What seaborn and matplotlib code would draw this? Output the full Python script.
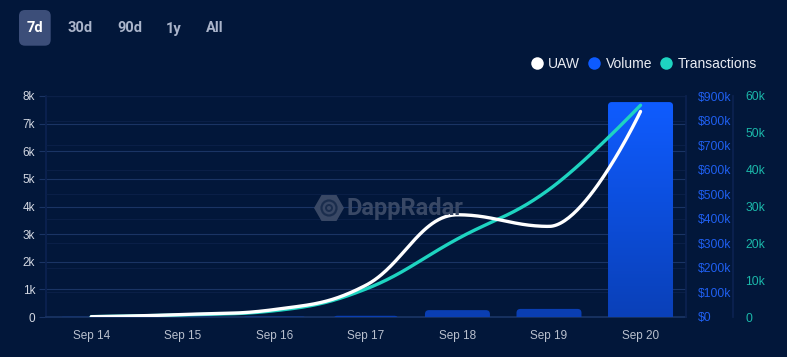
import numpy as np
import pandas as pd
import matplotlib
matplotlib.use("Agg")
import matplotlib.pyplot as plt
import seaborn as sns
from matplotlib.patches import FancyBboxPatch, RegularPolygon, Circle
from matplotlib.lines import Line2D
from matplotlib.colors import LinearSegmentedColormap

# ---------------- data ----------------
dates = ["Sep 14", "Sep 15", "Sep 16", "Sep 17", "Sep 18", "Sep 19", "Sep 20"]
uaw = [10, 90, 270, 1150, 3700, 3280, 7440]
volume = [600, 800, 1500, 5000, 28000, 33000, 875000]
transactions = [100, 600, 1700, 7600, 21200, 34600, 57500]

uaw_ticks = [0, 1000, 2000, 3000, 4000, 5000, 6000, 7000, 8000]
uaw_labels = ["0", "1k", "2k", "3k", "4k", "5k", "6k", "7k", "8k"]
vol_ticks = [0, 100000, 200000, 300000, 400000, 500000, 600000, 700000, 800000, 900000]
vol_labels = ["$0", "$100k", "$200k", "$300k", "$400k", "$500k", "$600k", "$700k", "$800k", "$900k"]
tx_ticks = [0, 10000, 20000, 30000, 40000, 50000, 60000]
tx_labels = ["0", "10k", "20k", "30k", "40k", "50k", "60k"]
ranges = ["7d", "30d", "90d", "1y", "All"]
legend_names = ["UAW", "Volume", "Transactions"]

# ---------------- style ----------------
BG = "#02173a"
GRID = "#1a3464"
GRID_FAINT = "#0b2048"
WHITE = "#ffffff"
TEAL = "#1ed4c1"
BLUE = "#0d5bff"
BAR_DARK = "#0a3eb2"

sns.set_theme(style="dark")
plt.rcParams["font.family"] = ["Liberation Sans", "DejaVu Sans"]

W, H = 787, 357
fig = plt.figure(figsize=(W / 100, H / 100), dpi=100, facecolor=BG)
rect = [45.5 / W, 40 / H, 640.8 / W, 221 / H]
ax = fig.add_axes(rect)
ax.set_facecolor(BG)
ax_vol = ax.twinx()
ax_tx = ax.twinx()
ax_top = ax.twinx()


def hc_spline(values, n=60):
    y = np.asarray(values, dtype=float)
    x = np.arange(len(y), dtype=float)
    m = len(y)
    lcx, lcy, rcx, rcy = x.copy(), y.copy(), x.copy(), y.copy()
    s, d = 1.5, 2.5
    for i in range(1, m - 1):
        lx = (s * x[i] + x[i - 1]) / d
        ly = (s * y[i] + y[i - 1]) / d
        rx = (s * x[i] + x[i + 1]) / d
        ry = (s * y[i] + y[i + 1]) / d
        corr = ((ry - ly) * (rx - x[i])) / (rx - lx) + y[i] - ry
        ly += corr
        ry += corr
        if ly > y[i - 1] and ly > y[i]:
            ly = max(y[i - 1], y[i]); ry = 2 * y[i] - ly
        elif ly < y[i - 1] and ly < y[i]:
            ly = min(y[i - 1], y[i]); ry = 2 * y[i] - ly
        if ry > y[i + 1] and ry > y[i]:
            ry = max(y[i + 1], y[i]); ly = 2 * y[i] - ry
        elif ry < y[i + 1] and ry < y[i]:
            ry = min(y[i + 1], y[i]); ly = 2 * y[i] - ry
        lcx[i], lcy[i], rcx[i], rcy[i] = lx, ly, rx, ry
    xs, ys = [], []
    t = np.linspace(0, 1, n)
    for i in range(m - 1):
        p0 = (x[i], y[i]); p1 = (rcx[i], rcy[i])
        p2 = (lcx[i + 1], lcy[i + 1]); p3 = (x[i + 1], y[i + 1])
        bx = (1 - t) ** 3 * p0[0] + 3 * (1 - t) ** 2 * t * p1[0] + 3 * (1 - t) * t ** 2 * p2[0] + t ** 3 * p3[0]
        by = (1 - t) ** 3 * p0[1] + 3 * (1 - t) ** 2 * t * p1[1] + 3 * (1 - t) * t ** 2 * p2[1] + t ** 3 * p3[1]
        if i > 0:
            bx, by = bx[1:], by[1:]
        xs.extend(bx); ys.extend(by)
    return np.array(xs), np.array(ys)


# ---------------- bars (volume) ----------------
df = pd.DataFrame({"date": dates, "volume": volume})
sns.barplot(data=df, x="date", y="volume", ax=ax_vol, color=BAR_DARK,
            width=0.71, saturation=1)
vmax = max(volume)
px_y = 900000 / 221.0
rr = 4 * px_y
cmap = LinearSegmentedColormap.from_list("vol", ["#0a40b8", "#0f5cff"])
for p, v in zip(list(ax_vol.patches), volume):
    x0, w, h = p.get_x(), p.get_width(), p.get_height()
    p.set_visible(False)
    box = FancyBboxPatch((x0, -rr), w, h + rr,
                         boxstyle="round,pad=0,rounding_size=%f" % (4 / 91.5),
                         mutation_aspect=rr / (4 / 91.5),
                         facecolor=BAR_DARK, edgecolor="none", zorder=2)
    ax_vol.add_patch(box)
    if v == vmax:
        grad = np.linspace(0, 1, 256).reshape(-1, 1)
        im = ax_vol.imshow(grad, cmap=cmap, origin="lower", aspect="auto",
                           extent=[x0, x0 + w, 0, h], zorder=3)
        im.set_clip_path(box)

# ---------------- lines ----------------
tx_x, tx_y = hc_spline(transactions)
sns.lineplot(x=tx_x, y=tx_y, ax=ax_tx, color=TEAL, linewidth=2.4,
             sort=False, estimator=None)
u_x, u_y = hc_spline(uaw)
sns.lineplot(x=u_x, y=u_y, ax=ax_top, color=WHITE, linewidth=2.4,
             sort=False, estimator=None)

# ---------------- axes ----------------
for a in (ax, ax_vol, ax_tx, ax_top):
    a.set_xlim(-0.5, 6.5)
    for sp in a.spines.values():
        sp.set_visible(False)
    a.set_xlabel("")
    a.set_ylabel("")

ax.set_ylim(0, 8000)
ax_top.set_ylim(0, 8000)
ax_vol.set_ylim(0, 900000)
ax_tx.set_ylim(0, 60000)

ax.set_yticks(uaw_ticks, uaw_labels)
ax.tick_params(axis="y", length=5, width=0.8, color=GRID, labelcolor="#d3d8e2",
               labelsize=8.5, pad=2.5, left=True)
ax.yaxis.grid(True, color=GRID, linewidth=0.8)
ax.xaxis.grid(False)
ax.spines["left"].set_visible(True)
ax.spines["left"].set_color("#0c2250")
ax.spines["bottom"].set_visible(True)
ax.spines["bottom"].set_color(GRID)

ax.set_xticks(range(len(dates)), dates)
ax.tick_params(axis="x", length=0, labelcolor="#b9c0ce", labelsize=8.5, pad=9)

ax_vol.set_yticks(vol_ticks, vol_labels)
ax_vol.tick_params(axis="y", length=0, labelcolor="#1f5ff0", labelsize=8.7, pad=8)
ax_vol.yaxis.grid(True, color=GRID_FAINT, linewidth=0.7)
ax_vol.xaxis.grid(False)
ax_vol.set_axisbelow(True)
ax_vol.spines["right"].set_visible(True)
ax_vol.spines["right"].set_color("#0c2250")

ax_tx.set_yticks(tx_ticks, tx_labels)
ax_tx.tick_params(axis="y", length=0, labelcolor="#1bb8aa", labelsize=8.7, pad=8.6)
ax_tx.spines["right"].set_visible(True)
ax_tx.spines["right"].set_position(("outward", 33.8))
ax_tx.spines["right"].set_color("#0c2250")
ax_tx.grid(False)

ax_top.set_yticks([])
ax_top.grid(False)
for a in (ax_vol, ax_tx, ax_top):
    a.tick_params(axis="x", length=0)

# ---------------- range buttons ----------------
fig.add_artist(FancyBboxPatch((19 / W, 1 - 45.7 / H), 31.7 / W, 35.7 / H,
                              boxstyle="round,pad=0,rounding_size=0.0076",
                              mutation_aspect=W / H, transform=fig.transFigure,
                              facecolor="#3c4e79", edgecolor="none"))
btn_x = [34.5, 80, 129.5, 174, 215]
for i, (lab, bx) in enumerate(zip(ranges, btn_x)):
    fig.text(bx / W, 1 - 28.5 / H, lab, ha="center", va="center",
             fontsize=10.5, fontweight="bold",
             family=["Roboto", "DejaVu Sans"],
             color="#ffffff" if i == 0 else "#aab4ca")

# ---------------- legend ----------------
leg_cols = [WHITE, BLUE, TEAL]
leg_mx = [536.7, 594, 666]
leg_tx = [548, 606, 678]
for name, c, mx, tx in zip(legend_names, leg_cols, leg_mx, leg_tx):
    fig.add_artist(Line2D([mx / W], [1 - 63 / H], marker="o", markersize=9,
                          markerfacecolor=c, markeredgecolor="none",
                          linestyle="none", transform=fig.transFigure))
    fig.text(tx / W, 1 - 63 / H, name, ha="left", va="center_baseline",
             fontsize=10, color="#e9ecf3")

# ---------------- watermark ----------------
wm_col = "#394865"
cx, cy = 3.29, (H - 208) / 100
fig.add_artist(RegularPolygon((cx, cy), numVertices=6, radius=0.15,
                              orientation=np.pi / 6, facecolor=wm_col,
                              edgecolor="none", transform=fig.dpi_scale_trans))
fig.add_artist(Circle((cx, cy), 0.075, facecolor="none", edgecolor=BG,
                      linewidth=1.6, alpha=0.55, transform=fig.dpi_scale_trans))
fig.add_artist(Circle((cx, cy), 0.03, facecolor="none", edgecolor=BG,
                      linewidth=1.4, alpha=0.55, transform=fig.dpi_scale_trans))
fig.text(3.47 / (W / 100), cy / (H / 100), "DappRadar", ha="left", va="center",
         fontsize=17, fontweight="bold", family=["Roboto", "DejaVu Sans"],
         color=wm_col)

fig.savefig("out.png", dpi=100, facecolor=BG)
